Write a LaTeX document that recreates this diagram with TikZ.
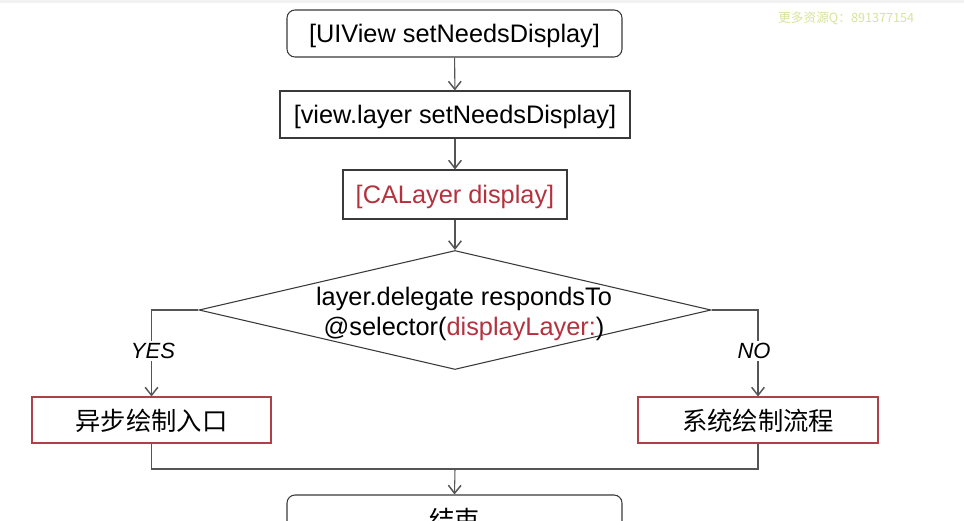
\documentclass[tikz,border=0pt]{standalone}
\usepackage{fontspec}
\setmainfont{Liberation Sans}
\newfontfamily\cjk{Noto Sans CJK SC}
\usetikzlibrary{arrows.meta,shapes.geometric}
\definecolor{linegray}{HTML}{555555}
\definecolor{boxgray}{HTML}{3A3A3A}
\definecolor{redtxt}{HTML}{B3323E}
\definecolor{redbox}{HTML}{B04048}
\definecolor{wmark}{HTML}{D8E49C}
\tikzset{
  px/.style={x=0.75pt,y=-0.75pt},
  basebox/.style={draw=boxgray,line width=0.8pt,inner sep=0pt,text depth=0pt,font=\fontsize{19}{22}\selectfont},
  roundbox/.style={basebox,rounded corners=6pt},
  redbox/.style={basebox,draw=redbox},
  conn/.style={draw=linegray,line width=0.8pt},
  arr/.style={conn,-{Straight Barb[length=6pt,width=9.5pt,line width=1.1pt]}},
  branchlbl/.style={fill=white,inner sep=2pt,font=\fontsize{16.5}{18}\selectfont\itshape,text=black}
}
\begin{document}
\begin{tikzpicture}[px]
\useasboundingbox (0,0) rectangle (964,521);
\clip (0,0) rectangle (964,521);
\fill[white] (0,0) rectangle (964,521);
\fill[black!5] (0,0) rectangle (964,3);
% watermark
\node[font=\cjk\fontsize{9.5}{11}\selectfont,text=wmark,anchor=west,inner sep=0pt] (wm) at (778,18) {更多资源Q：891377154};
% nodes
\node[roundbox,minimum width=251.25pt,minimum height=35.25pt] (b1) at (454.5,33.5) {[UIView setNeedsDisplay]};
\node[basebox,minimum width=262.5pt,minimum height=35.25pt] (b2) at (455,114.5) {[view.layer setNeedsDisplay]};
\node[basebox,minimum width=168pt,minimum height=36.75pt,text=redtxt] (b3) at (455,194.5) {[CALayer display]};
\node[diamond,draw=boxgray,line width=0.8pt,inner sep=0pt,minimum width=384pt,minimum height=89.25pt] (d) at (455,310) {};
\node[align=center,inner sep=0pt,font=\fontsize{19}{22.5}\selectfont] (dt) at (464,314) {layer.delegate respondsTo\\@selector(\textcolor{redtxt}{displayLayer:})};
\node[redbox,minimum width=179.25pt,minimum height=34.5pt] (b4) at (151.5,420) {\cjk 异步绘制入口};
\node[redbox,minimum width=180pt,minimum height=34.5pt] (b5) at (758,420) {\cjk 系统绘制流程};
\node[roundbox,minimum width=251.25pt,minimum height=35.25pt] (b6) at (454.5,518.5) {\cjk 结束};
% connectors
\draw[arr] (b1) -- (b2);
\draw[arr] (b2) -- (b3);
\draw[arr] (b3) -- (d.north);
\draw[arr] (d.west) -| (b4.north);
\draw[arr] (d.east) -| (b5.north);
\node[branchlbl] (yes) at (153,351) {YES};
\node[branchlbl] (no) at (754,351) {NO};
\coordinate (m) at (455,469);
\draw[conn] (b4.south) |- (m) -| (b5.south);
\draw[arr] (m) -- (b6.north);
\end{tikzpicture}
\end{document}
